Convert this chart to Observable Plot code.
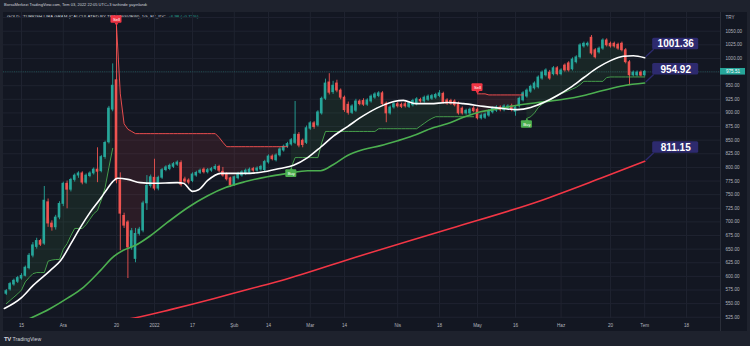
<!DOCTYPE html>
<html><head><meta charset="utf-8">
<script src="https://cdn.jsdelivr.net/npm/d3@7"></script>
<script src="https://cdn.jsdelivr.net/npm/@observablehq/plot@0.6"></script>
<style>
html,body{margin:0;padding:0;background:#1e222d;width:750px;height:346px;overflow:hidden;font-family:"Liberation Sans",Arial,sans-serif}
#hdr{position:absolute;left:4px;top:0;height:11px;line-height:10px;font-size:4px;color:#d1d4dc;white-space:nowrap}
#wrap{position:absolute;left:3px;top:12px;width:744px;height:319px;background:#131722;overflow:hidden}
#title{position:absolute;left:4px;top:2.2px;font-size:4.4px;line-height:5px;color:#d1d4dc;white-space:nowrap;z-index:0}
#title span{color:#26a69a}
#chart{position:absolute;left:0;top:0;width:744px;height:319px;z-index:1}
#ftr{position:absolute;left:4px;top:336px;font-size:5.2px;line-height:6px;color:#d1d4dc;white-space:nowrap}
#ftr b{font-size:6px;margin-right:1.5px;letter-spacing:-0.3px}
</style></head>
<body>
<div id="hdr">BorsaMerkezi TradingView.com, Tem 03, 2022 22:05 UTC+3 tarihinde yayınlandı</div>
<div id="wrap">
  <div id="title">GOLD / TURKISH LIRA GRAM (CALCULATED BY TRADINGVIEW), 1G, FX_IDC &nbsp;<span>+6.98 (+0.72%)</span></div>
  <div id="chart"></div>
</div>
<div id="ftr"><b>TV</b>TradingView</div>
<script>
// ---- data (trading-day index, 0 = 15 Nov 2021) ----
const startIdx = -4;
const opens = [568,576,585,590,596,601,615,638,654,665,660,736,697,690,708,733,770,759,777,785,789,772,784,789,796,793,819,846,906,960,776,711,699,653,632,678,684,734,766,781,761,781,795,797,801,805,808,778,776,775,785,790,796,791,794,797,801,792,788,780,768,780,785,788,790,797,794,796,795,809,820,813,822,831,838,842,845,860,849,845,871,881,877,899,926,956,938,954,941,928,915,900,904,921,922,915,921,928,931,936,917,899,910,916,915,916,911,914,916,924,921,924,926,928,931,935,923,922,921,917,908,899,899,908,906,890,891,895,901,904,910,905,908,912,902,912,923,930,939,945,947,963,969,974,971,982,971,987,991,980,993,1002,1022,1024,1038,1015,1011,1018,1033,1027,1027,1025,1027,1015,993,969,969,974,969];
const highs = [576,589,595,600,605,619,642,662,670,668,765,742,702,712,737,773,775,780,788,792,792,788,792,799,836,822,848,912,990,1062,790,716,702,688,688,690,738,785,786,815,784,798,803,806,809,812,812,782,779,790,793,797,799,798,800,805,804,800,790,782,784,791,794,797,799,800,801,804,813,823,823,825,836,841,846,853,921,864,852,876,884,884,904,929,962,972,958,960,944,931,920,915,925,924,926,926,933,937,939,939,920,913,919,919,918,919,921,925,928,927,931,933,934,936,941,938,926,925,924,920,911,907,909,912,909,898,900,906,911,913,913,915,915,916,913,929,939,944,951,957,968,977,981,978,985,985,981,990,994,1001,1005,1027,1030,1030,1042,1018,1021,1036,1036,1030,1030,1028,1030,1018,996,977,977,977,978];
const lows = [565,573,582,587,593,599,612,634,650,655,657,690,683,685,704,728,724,755,773,780,768,769,781,786,772,790,815,843,902,770,647,688,596,648,625,674,680,721,762,757,757,778,792,794,798,802,764,770,768,772,782,787,788,788,791,794,790,782,775,763,765,777,782,785,787,791,791,793,792,806,812,810,819,828,835,839,842,836,836,842,868,870,874,896,923,933,934,937,924,901,896,897,901,913,912,912,918,925,928,913,882,896,907,909,908,909,908,911,913,918,918,921,923,925,928,916,914,914,911,896,896,896,896,900,887,887,888,892,898,901,902,902,905,902,894,909,920,927,936,942,944,960,966,960,968,968,968,975,975,977,990,999,1019,1021,1006,999,1008,1015,1021,1019,1019,1015,1012,990,950,966,966,966,966];
const closes = [573,586,592,597,601,616,638,657,665,658,739,697,690,708,733,770,759,777,785,789,772,785,789,796,792,819,845,908,950,776,715,693,653,683,678,686,734,766,782,761,781,795,800,803,806,809,768,774,772,787,790,794,791,795,797,801,794,785,778,767,782,788,791,794,796,794,798,801,810,820,815,822,833,838,843,850,860,840,841,872,881,874,901,926,954,937,950,941,928,905,900,912,921,916,915,923,930,934,936,916,899,910,916,912,911,912,918,922,925,921,928,930,931,933,936,919,917,917,914,899,899,904,906,903,890,895,897,903,908,910,905,912,912,905,910,926,936,941,948,954,965,974,978,963,982,971,978,978,978,998,1002,1024,1027,1027,1009,1002,1018,1033,1024,1022,1022,1018,1015,993,969,974,974,968.53,975.51];

// supertrend (10,3) values read per bar, by segment
const stUp1 = [550,556,562,568,575,590,598,605,607,607,607,628,630,631,631,650,660,675,688,688,688,695,705,715,721,740,763,800,835];            // idx -4..24
const stDn1 = [1060,935,880,870,866,862,862,862,862,862,862,862,862,862,862,862,862,862,862,862,862,862,862,862,862,862,862,855,846,838,838,838,838,838,838,838,838,838,838,838,838,838,838,838,838,838]; // 25..70
const stUp2 = [800,818,818,818,818,818,818,818,845,866,866,866,866,866,866,866,866,866,866,866,866,866,866,871,871,871,871,871,871,871,871,871,871,871,876,881,886,890,893,893,893,893,893,893,893,893,893,893,893]; // 71..119
const stDn2 = [935,935,935,933,933,933,933,933,933,933,933,933,933];   // 120..132
const stUp3 = [890,893,900,910,916,920,923,927,931,935,938,941,944,947,952,958,958,958,958,958,958,965,966,966,966,966,966,966,966,966,966,966]; // 133..164
const stStarts = [-4, 25, 71, 120, 133];

// moving averages (index, value)
const whiteIdx = [-4.5,0,3,7.6,10.3,13,15.5,18,20.8,22.6,24,25.3,28,31.3,34.7,41,42.6,45,46.6,49,52.4,58.4,63,68,71.6,75.3,78.7,82,85.8,90,94.5,98,100.5,103.7,107.6,112,116.3,121.6,126.8,130.5,134,137.4,141,144.5,148,151.6,155,158.4,161,164];
const whiteVal = [541,561,583,611,629,660,690,717,743,761,774,780,778,772,771,772,771,756,759,776,789,789,791,798,804,818,837,857,875,895,912,921,923,917,917,919,917,912,908,906,910,919,932,947,965,983,996,1004,1005,1001.36];
const greenIdx = [1,7.6,12.1,16.3,20.8,24,26.8,30,34,38.4,43.7,49,53.7,59,64.7,70,75.3,78.7,82,85.8,90,94.5,99,103,107.6,112,116.3,120.8,126,128.7,135.8,142.6,148,153,158.4,164];
const greenVal = [519,541,560,580,611,635,648,657,675,699,726,748,763,774,783,789,794,794,805,822,833,840,849,858,871,880,892,902,908,912,919,925,932,941,950,954.92];
const redIdx = [26,31.3,39.2,50.5,59.5,68.2,89.2,112.9,136.6,152.4,164];
const redVal = [519,526,539,559,576,592,638,688,739,780,811.15];

// time axis
const tickIdx = [0,11,25,35,45,56,65,76,85,99,110,120,130,142,155,164,175];
const tickLbl = ["15","Ara","20","2022","17","Şub","14","Mar","14","Nis","18","May","16","Haz","20","Tem","18"];
const yGrid = d3.range(525, 1076, 25);
const yLabels = d3.range(525, 1051, 25).filter(v => v !== 975);

// ---- build ----
const W = 744, H = 319, MR = 27, MB = 13;
const xDom = [-4.737, 183.95], yDom = [522.7, 1084.3];
const pxX = (W - MR) / (xDom[1] - xDom[0]);
const pxY = (H - MB) / (yDom[1] - yDom[0]);
const upC = "#26a69a", dnC = "#ef5350";

const candles = opens.map((o, k) => ({i: startIdx + k, o, h: highs[k], l: lows[k], c: closes[k]}));
const upBars = candles.filter(d => d.c >= d.o), dnBars = candles.filter(d => d.c < d.o);
const stSets = [stUp1, stDn1, stUp2, stDn2, stUp3];
const stRows = stSets.flatMap((vals, s) => vals.map((v, k) => {
  const i = stStarts[s] + k, c = candles[i - startIdx];
  return {i, st: v, mid: (c.o + c.c) / 2, dir: s % 2 === 0 ? 1 : -1, seg: s};
}));
const stUpRows = stRows.filter(d => d.dir > 0), stDnRows = stRows.filter(d => d.dir < 0);
const sells = [1, 3].map(s => ({i: stStarts[s], v: stSets[s][0]}));
const buys = [2, 4].map(s => ({i: stStarts[s], v: stSets[s][0]}));
const pts = (I, V) => I.map((x, k) => ({i: x, v: V[k]}));
const white = pts(whiteIdx, whiteVal), green = pts(greenIdx, greenVal), red = pts(redIdx, redVal);
const lastIdx = candles[candles.length - 1].i;
const lastClose = closes[closes.length - 1];
const lastLabels = [whiteVal, greenVal, redVal].map(a => ({i: lastIdx, v: a[a.length - 1]}));
const gridC = "#1f2330", lblC = "#2d2a6e", axC = "#b2b5be";

const chart = Plot.plot({
  width: W, height: H,
  marginLeft: 0, marginRight: MR, marginTop: 0, marginBottom: MB,
  style: {background: "transparent", color: axC, fontFamily: "'Liberation Sans', Arial, sans-serif", overflow: "visible"},
  x: {domain: xDom, axis: null},
  y: {domain: yDom, axis: null},
  marks: [
    Plot.ruleY(yGrid, {stroke: gridC}),
    Plot.ruleX(tickIdx, {stroke: gridC}),
    Plot.ruleY([lastClose], {stroke: upC, strokeOpacity: 0.45, strokeDasharray: "1,1.2", strokeWidth: 0.8}),
    Plot.areaY(stUpRows, {x: "i", y1: "st", y2: "mid", z: "seg", fill: "#4caf50", fillOpacity: 0.1}),
    Plot.areaY(stDnRows, {x: "i", y1: "st", y2: "mid", z: "seg", fill: "#ff5252", fillOpacity: 0.1}),
    Plot.ruleX(upBars, {x: "i", y1: "l", y2: "h", stroke: upC, strokeWidth: 0.9}),
    Plot.ruleX(dnBars, {x: "i", y1: "l", y2: "h", stroke: dnC, strokeWidth: 0.9}),
    Plot.rect(upBars, {x1: "i", x2: "i", y1: "o", y2: "c", insetLeft: -1.3, insetRight: -1.3, insetTop: -0.4, insetBottom: -0.4, fill: upC}),
    Plot.rect(dnBars, {x1: "i", x2: "i", y1: "o", y2: "c", insetLeft: -1.3, insetRight: -1.3, insetTop: -0.4, insetBottom: -0.4, fill: dnC}),
    Plot.line(stUpRows, {x: "i", y: "st", z: "seg", stroke: "#4caf50", strokeWidth: 0.9}),
    Plot.line(stDnRows, {x: "i", y: "st", z: "seg", stroke: "#ff5252", strokeWidth: 0.9}),
    Plot.line(red, {x: "i", y: "v", stroke: "#f23645", strokeWidth: 1.6, curve: "monotone-x", clip: true}),
    Plot.line(green, {x: "i", y: "v", stroke: "#4caf50", strokeWidth: 1.6, curve: "monotone-x", clip: true}),
    Plot.line(white, {x: "i", y: "v", stroke: "#ffffff", strokeWidth: 1.6, curve: "monotone-x", clip: true}),
    // sell / buy signals
    Plot.rect(sells, {x1: "i", x2: "i", y1: "v", y2: "v", insetLeft: -5.5, insetRight: -5.5, insetTop: -10, insetBottom: 2.4, fill: "#f23645", rx: 1}),
    Plot.dot(sells, {x: "i", y: "v", dy: -1.9, symbol: "triangle", r: 1.4, fill: "#f23645", rotate: 180}),
    Plot.text(sells, {x: "i", y: "v", dy: -6.2, text: () => "Sell", fill: "#ffffff", fontSize: 4.2}),
    Plot.rect(buys, {x1: "i", x2: "i", y1: "v", y2: "v", insetLeft: -5.5, insetRight: -5.5, insetTop: 2.4, insetBottom: -10, fill: "#4caf50", rx: 1}),
    Plot.dot(buys, {x: "i", y: "v", dy: 1.9, symbol: "triangle", r: 1.4, fill: "#4caf50"}),
    Plot.text(buys, {x: "i", y: "v", dy: 6.2, text: () => "Buy", fill: "#ffffff", fontSize: 4.2}),
    // last value labels
    Plot.link(lastLabels, {x1: d => d.i + 1 / pxX, y1: d => d.v + 1 / pxY, x2: d => d.i + 9 / pxX, y2: d => d.v + 8.5 / pxY, stroke: lblC, strokeWidth: 1.3}),
    Plot.rect(lastLabels, {x1: "i", x2: "i", y1: "v", y2: "v", insetLeft: 8, insetRight: -54, insetTop: -19.5, insetBottom: 8, fill: lblC, rx: 1.5}),
    Plot.text(lastLabels, {x: "i", y: "v", dx: 31, dy: -13.6, text: d => d3.format(".2f")(d.v), fill: "#ffffff", fontSize: 10, fontWeight: "bold"}),
    // axes
    Plot.ruleX([xDom[1]], {stroke: "#2a2e39", insetBottom: -MB}),
    Plot.text(yLabels, {x: () => xDom[1], y: d => d, dx: 5, textAnchor: "start", text: d => d.toFixed(2), fill: axC, fontSize: 4.6}),
    Plot.text(["TRY"], {frameAnchor: "top-right", dx: 5, dy: 3, textAnchor: "start", fill: axC, fontSize: 4.6}),
    Plot.rect([lastClose], {x1: () => xDom[1], x2: () => xDom[1], y1: d => d, y2: d => d, insetRight: -25, insetTop: -3.3, insetBottom: -3.3, fill: upC}),
    Plot.text([lastClose], {x: () => xDom[1], y: d => d, dx: 12.5, text: d => d.toFixed(2), fill: "#ffffff", fontSize: 4.6}),
    Plot.text(tickIdx, {x: d => d, frameAnchor: "bottom", dy: 8, text: (d, k) => tickLbl[k], fill: axC, fontSize: 4.6})
  ]
});
document.getElementById("chart").appendChild(chart);
</script>
</body></html>
